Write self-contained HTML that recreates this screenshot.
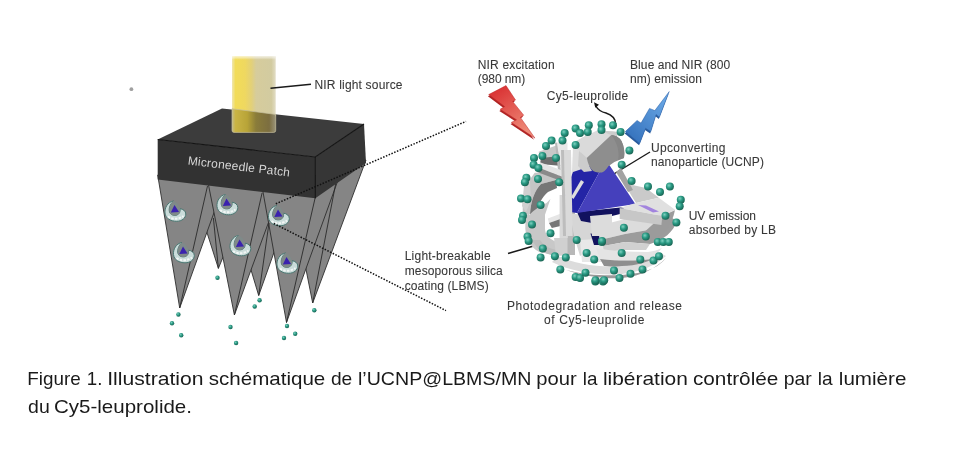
<!DOCTYPE html>
<html><head><meta charset="utf-8">
<style>
html,body{margin:0;padding:0;background:#fff;}
body{width:960px;height:457px;overflow:hidden;position:relative;}
svg{position:absolute;left:0;top:0;filter:blur(0.45px);}
text{font-family:"Liberation Sans",sans-serif;}
</style></head>
<body>
<svg width="960" height="457" viewBox="0 0 960 457">
<defs>
  <radialGradient id="teal" cx="0.38" cy="0.35" r="0.7">
    <stop offset="0" stop-color="#7fd0bf"/>
    <stop offset="0.45" stop-color="#2a9a84"/>
    <stop offset="1" stop-color="#17604f"/>
  </radialGradient>
  <linearGradient id="cylTop" x1="0" y1="0" x2="1" y2="0">
    <stop offset="0" stop-color="#e9d35c"/>
    <stop offset="0.2" stop-color="#f2de68"/>
    <stop offset="0.45" stop-color="#e6d57a"/>
    <stop offset="0.5" stop-color="#ddd6a6"/>
    <stop offset="1" stop-color="#dcd6b0"/>
  </linearGradient>
  <linearGradient id="cylBot" x1="0" y1="0" x2="1" y2="0">
    <stop offset="0" stop-color="#c9b957"/>
    <stop offset="0.45" stop-color="#a99a3c"/>
    <stop offset="0.55" stop-color="#7d7236"/>
    <stop offset="1" stop-color="#8c8662"/>
  </linearGradient>
  <linearGradient id="redBolt" x1="0" y1="0" x2="0.6" y2="1">
    <stop offset="0" stop-color="#d7262a"/>
    <stop offset="1" stop-color="#ee8a78"/>
  </linearGradient>
  <linearGradient id="blueBolt" x1="0" y1="1" x2="0.8" y2="0">
    <stop offset="0" stop-color="#2f6cb8"/>
    <stop offset="1" stop-color="#6aa8e6"/>
  </linearGradient>
</defs>

<!-- stray dot -->
<circle cx="131.4" cy="89.2" r="1.9" fill="#8f8f8f" opacity="0.85"/>

<!-- ===== Needles ===== -->
<g fill="#858585" stroke="#2e2e2e" stroke-width="0.9" stroke-linejoin="round">
  <polygon points="289,184 366,160 312.7,303"/>
  <polygon points="227,190 294,196 258.7,295.5"/>
  <polygon points="192.5,187 250.5,190 218.4,268.4"/>
  <polygon points="157.7,175 225,182 179.7,308"/>
  <polygon points="207.5,180 281.2,188 234.4,315"/>
  <polygon points="262.1,187 315.3,192 339.5,176 286.5,322.5"/>
</g>
<g stroke="#2a2a2a" stroke-width="0.9" fill="none">
  <line x1="336" y1="182" x2="312.7" y2="303"/>
  <line x1="269" y1="223" x2="258.7" y2="295.5"/>
  <line x1="213.4" y1="218" x2="218.4" y2="268.4"/>
  <line x1="207.5" y1="186" x2="179.7" y2="308"/>
  <line x1="262.1" y1="192.9" x2="234.4" y2="315"/>
  <line x1="315.3" y1="197.2" x2="286.5" y2="322.5"/>
</g>

<!-- ===== Box ===== -->
<polygon points="157.7,139.5 222,108.4 364,124 315.3,157" fill="#3c3c3c"/>
<polygon points="157.7,139.5 315.3,157 315.3,198.3 157.7,179.6" fill="#323232"/>
<polygon points="315.3,157 364,124 366,163 315.3,198.3" fill="#363636"/>
<g stroke="#141414" stroke-width="1.1" fill="none">
  <polyline points="157.7,139.5 315.3,157 364,124"/>
  <line x1="315.3" y1="157" x2="315.3" y2="198.3"/>
</g>
<text x="0" y="0" font-size="12" fill="#d6d6d6" textLength="102.7" lengthAdjust="spacing" transform="translate(187.5,164.4) rotate(6.8)">Microneedle Patch</text>

<!-- ===== Cylinder ===== -->
<linearGradient id="cylTop2" x1="0" y1="0" x2="1" y2="0">
  <stop offset="0" stop-color="#efe6b0"/>
  <stop offset="0.08" stop-color="#f2dc58"/>
  <stop offset="0.3" stop-color="#efd860"/>
  <stop offset="0.45" stop-color="#e2d07a"/>
  <stop offset="0.55" stop-color="#d6cc9c"/>
  <stop offset="0.9" stop-color="#d2cba0"/>
  <stop offset="1" stop-color="#e2ddc6"/>
</linearGradient>
<linearGradient id="cylBot2" x1="0" y1="0" x2="1" y2="0">
  <stop offset="0" stop-color="#c4bc88"/>
  <stop offset="0.08" stop-color="#c9b444"/>
  <stop offset="0.35" stop-color="#b8a438"/>
  <stop offset="0.55" stop-color="#8a7c3a"/>
  <stop offset="0.85" stop-color="#7c6e40"/>
  <stop offset="1" stop-color="#9a947a"/>
</linearGradient>
<linearGradient id="cylFade" x1="0" y1="0" x2="0" y2="1">
  <stop offset="0" stop-color="#fff" stop-opacity="0.7"/>
  <stop offset="1" stop-color="#fff" stop-opacity="0"/>
</linearGradient>
<rect x="232" y="56.3" width="43.7" height="60" fill="url(#cylTop2)"/>
<rect x="232" y="56.3" width="43.7" height="3.5" fill="url(#cylFade)"/>
<path d="M232,108.7 L275.7,114.4 L275.7,130.4 Q275.7,132.4 273.7,132.4 L234,132.4 Q232,132.4 232,130.4 Z" fill="url(#cylBot2)" stroke="#c6bf9c" stroke-width="0.7"/>
<line x1="270.5" y1="88.3" x2="311" y2="84.2" stroke="#1a1a1a" stroke-width="1.5"/>

<!-- mini particles -->
<g id="mini">
  <symbol id="mp" viewBox="-12 -11 24 22" overflow="visible">
    <path d="M-1.5,-9.5 C-7.5,-8.5 -10.5,-2.5 -10,2.5 C-9.5,8 -4,10.8 1.5,10.8 C7,10.8 10.8,7.5 10.8,3.5 C10.8,0.5 8,-1.5 5,-1.8 C5.5,1 4.5,3.5 2,4.5 C-1,5.5 -4.5,4.5 -5.5,1.5 C-6.5,-2 -5,-6.5 -1.5,-9.5 Z" fill="#cadcda" stroke="#4a7772" stroke-width="1"/>
    <path d="M-1.5,-9.5 C-5,-6.5 -6.5,-2 -5.5,1.5 C-4.5,4.5 -1,5.5 2,4.5 C4.5,3.5 5.5,1 5,-1.8 C4,-5.5 1.5,-8.5 -1.5,-9.5 Z" fill="#7f8a89"/>
    <polygon points="-0.5,-5.5 -4.2,2 4,1.5" fill="#3a22ae"/>
    <path d="M-7,6 C-3.5,9 3.5,9 8.5,5.5" stroke="#f2f6f5" stroke-width="2" fill="none" stroke-dasharray="2.5,1.2"/>
  </symbol>
  <use href="#mp" x="163.0" y="199.5" width="24" height="22"/>
  <use href="#mp" x="171.5" y="241.0" width="24" height="22"/>
  <use href="#mp" x="215.0" y="193.0" width="24" height="22"/>
  <use href="#mp" x="228.0" y="234.0" width="24" height="22"/>
  <use href="#mp" x="266.5" y="204.0" width="24" height="22"/>
  <use href="#mp" x="275.0" y="251.5" width="24" height="22"/>
</g>

<!-- dots below needles -->
<g fill="url(#teal)">
  <circle cx="178.4" cy="314.5" r="2.2"/><circle cx="172" cy="323.3" r="2.2"/><circle cx="181.2" cy="335.3" r="2.2"/>
  <circle cx="217.5" cy="277.8" r="2.2"/><circle cx="230.5" cy="327" r="2.2"/><circle cx="236.1" cy="343" r="2.2"/>
  <circle cx="259.6" cy="300.3" r="2.2"/><circle cx="254.7" cy="306.5" r="2.2"/><circle cx="287" cy="326" r="2.2"/>
  <circle cx="295.2" cy="333.8" r="2.2"/><circle cx="284" cy="338" r="2.2"/><circle cx="314.3" cy="310.2" r="2.2"/>
</g>

<!-- dotted lines -->
<g stroke="#111" stroke-width="1.5" stroke-dasharray="1.5,1.5" fill="none">
  <line x1="275.8" y1="203.8" x2="466" y2="121.4"/>
  <line x1="273.8" y1="223.5" x2="446" y2="310.6"/>
</g>

<!-- ===== Labels ===== -->
<g fill="#383838" font-size="12" stroke="#383838" stroke-width="0.08">
  <text x="314.5" y="88.6" textLength="88" lengthAdjust="spacing">NIR light source</text>
  <text x="477.8" y="68.75" textLength="76.8" lengthAdjust="spacing">NIR excitation</text>
  <text x="477.8" y="83.3" textLength="47.4" lengthAdjust="spacing">(980 nm)</text>
  <text x="630" y="68.75" textLength="100.25" lengthAdjust="spacing">Blue and NIR (800</text>
  <text x="630" y="83.1" textLength="71.9" lengthAdjust="spacing">nm) emission</text>
  <text x="546.8" y="99.5" textLength="81.5" lengthAdjust="spacing">Cy5-leuprolide</text>
  <text x="651" y="152.2" textLength="74.5" lengthAdjust="spacing">Upconverting</text>
  <text x="651" y="166" textLength="113" lengthAdjust="spacing">nanoparticle (UCNP)</text>
  <text x="688.7" y="220" textLength="67.3" lengthAdjust="spacing">UV emission</text>
  <text x="688.7" y="234.2" textLength="87.3" lengthAdjust="spacing">absorbed by LB</text>
  <text x="404.7" y="260.3" textLength="85.9" lengthAdjust="spacing">Light-breakable</text>
  <text x="404.7" y="274.7" textLength="98.1" lengthAdjust="spacing">mesoporous silica</text>
  <text x="404.7" y="290.3" textLength="84" lengthAdjust="spacing">coating (LBMS)</text>
  <text x="507" y="309.8" textLength="175" lengthAdjust="spacing">Photodegradation and release</text>
  <text x="544" y="324.3" textLength="100.5" lengthAdjust="spacing">of Cy5-leuprolide</text>
</g>

<!-- pointer lines -->
<g stroke="#1a1a1a" stroke-width="1.4" fill="none">
  <line x1="650" y1="152" x2="610.5" y2="176"/>
  <line x1="508" y1="253.5" x2="537" y2="245"/>
  <path d="M595.5,105.5 C598,110 601,112 606,113 C612,115 615.5,118 615.6,124" stroke-width="1.5"/>
  <polygon points="594,102.3 599,104.8 595.3,107.8" fill="#111" stroke="none"/>
</g>

<!-- bolts -->
<polygon points="488.7,94.6 506,85.6 515.5,100 512.6,101.4 523.7,115.2 520.4,117.4 534.9,138.1 511.3,122.4 516.5,119.8 500.1,109.3 504.7,106.6" fill="#b02424" transform="translate(-0.8,1.6)"/>
<polygon points="488.7,94.6 506,85.6 515.5,100 512.6,101.4 523.7,115.2 520.4,117.4 534.9,138.1 511.3,122.4 516.5,119.8 500.1,109.3 504.7,106.6" fill="url(#redBolt)" stroke="#c02a2a" stroke-width="0.5"/>
<polygon points="625.3,131.6 637.1,120.4 641,123.1 649.5,108.4 654.8,110.6 669.2,91.6 659.4,117.2 656.1,114.5 650.8,131.6 645.6,128.3 639.7,143.4" fill="#285a9c" transform="translate(-0.6,1.8)"/>
<polygon points="625.3,131.6 637.1,120.4 641,123.1 649.5,108.4 654.8,110.6 669.2,91.6 659.4,117.2 656.1,114.5 650.8,131.6 645.6,128.3 639.7,143.4" fill="url(#blueBolt)" stroke="#2f62a6" stroke-width="0.5"/>

<!-- ===== Nanoparticle ===== -->
<g id="np">
  <!-- light shell behind dome -->
  <path d="M576,142 C588,132 604,129 618,132 L612,160 L584,172 L574,170 Z" fill="#cccccc"/>
  <!-- top-left surfaces -->
  <polygon points="538.6,151.8 557,145.3 559.6,157 541.3,162.3" fill="#c8c8c8"/>
  <polygon points="541,158 560,156 562,166 540,164" fill="#6e6e6e"/>
  <!-- upper crescent (big gray) -->
  <path d="M534.7,172.8 L558,172.8 L556,180 L541,184 C535,190 531,200 530,214 L523,214 C522,203 524,190 528,182 Z" fill="#c5c5c5"/>
  <path d="M541,184 L556,180 L557,188 L548,192 C542,197 538,205 536,214 L530,214 C531,200 535,190 541,184 Z" fill="#767676"/>
  <polygon points="524,186 530,182 531,200 526,212 522,206" fill="#d0d0d0"/>
  <!-- white bars -->
  <polygon points="557,142.6 567.5,142.6 567.5,179.4 562,179.4" fill="#e7e7e7"/>
  <polygon points="555,143 557,142.6 562,179.4 559,179" fill="#b8b8b8"/>
  <polygon points="540,162.3 565,171.5 562,176.8 538.6,167.6" fill="#e4e4e4"/>
  <polygon points="538.6,167.6 562,176.8 561,181 537,172" fill="#8a8a8a"/>
  <polygon points="573,146 582,144 578,196 571,196" fill="#dedede"/>
  <!-- lower crescent -->
  <path d="M528,212 C524,222 524,236 530.8,244.9 C535,250 540,253 544,252.8 L556,256 L558,244 L554.4,241 C548,238 545,234 545,228 L545,214.7 L550.4,199 L546.5,203 C540,206 534,210 529.4,214.7 Z" fill="#c8c8c8"/>
  <path d="M532,240 C536,248 542,252 548,254 L556,256 L557,250 C550,249 544,246 540,240 Z" fill="#bdbdbd"/>
  <!-- inner bars -->
  <polygon points="547.8,218.6 565,212 566,217 549,223" fill="#e6e6e6"/>
  <polygon points="549,223 566,217 565,225 551.8,228" fill="#777777"/>
  <polygon points="559.6,195 567.5,195 567.5,238 559.6,238" fill="#d8d8d8"/>
  <polygon points="554,238 570,238 570,255 556,256" fill="#d0d0d0"/>
  <polygon points="567.5,208 575,208 575,255 567.5,255" fill="#b8b8b8"/>
  <!-- center / bottom blocks -->
  <polygon points="570,214 592,214 600,226 590,250 580,256 574,236" fill="#d6d6d6"/>
  <polygon points="580,240 612,238 614,262 582,262" fill="#e8e8e8"/>
  <polygon points="598,226 625,219 662,214 672,218 660,228 625,234 600,240" fill="#dcdcdc"/>
  <path d="M600,240 L625,234 L660,228 L672,218 L677,221 C673,232 664,240 650,244 L625,242 L603,246 Z" fill="#9c9c9c"/>
  <polygon points="603,246 625,242 650,244 646,250 625,250 604,252" fill="#d0d0d0"/>
  <polygon points="590.5,233.5 599,234 600,245 594,245" fill="#12125e"/>
  <!-- blue pyramid -->
  <polygon points="577,212 625,207 620,214 600,219 592,223 581,221" fill="#12125e"/>
  <polygon points="606,160 588,167 573,172 565,193 570,212 577,213" fill="#2424a6"/>
  <polygon points="606,160 577,213 635.3,204" fill="#4540bc"/>
  <polygon points="581,180 584,182 573.5,199 571,197" fill="#dedede"/>
  <polygon points="564,150 571,150 572.7,236 566,236" fill="#dadada"/>
  <polygon points="561,150 564,150 566,236 563,236" fill="#bdbdbd"/>
  <polygon points="590,216 612,214 612,236 592,236" fill="#dcdcdc"/>
  <!-- right slab -->
  <path d="M662,216 L675,210 C672,225 664,236 650,242 L640,236 Z" fill="#9b9b9b"/>
  <polygon points="623.6,183 646,188 658.8,197.8 636,203" fill="#cacaca"/>
  <polygon points="619.7,208 636,203 658.8,197.8 675.4,210 662.3,216" fill="#e0e0e0"/>
  <polygon points="619.7,208 662.3,216 661.4,225 619.7,219" fill="#c7c7c7"/>
  <polygon points="638,205 646,205.5 659,211.5 653,212.5" fill="#a284de"/>
  <!-- bottom bands -->
  <path d="M596,248 C612,251 630,252 648,252 C654,251 658,250 662,248 L652,259 C636,261 618,261 600,259 Z" fill="#e4e4e4"/>
  <path d="M600,259 C618,261 636,261 652,259 L648,266 C634,268 618,268 604,266 Z" fill="#8e8e8e"/>
  <path d="M552,262 C572,272 598,276 622,274 C640,272 655,266 666,256 L662,254 C650,262 636,266 622,266 C600,268 575,264 558,256 Z" fill="#dcdcdc"/>
  <path d="M566,270 C590,278 610,279 622,278 C642,276 656,268 666,258 C658,268 646,273 622,275 C605,276 585,275 566,270 Z" fill="#9a9a9a"/>
  <!-- dome -->
  <polygon points="574,142 598,130 611.3,135 586.8,158 579,151" fill="#dadada"/>
  <polygon points="579,151 586.8,158 588.4,164.8 592,171 584,172 578,166" fill="#cccccc"/>
  <path d="M586.8,158 L611.3,135 C616,135.5 620,138 621.5,141 C624,146 625,152 624,158 L614.4,162 L608.3,166.3 C606,170 603,173 600.6,172.5 C597,172.5 594,172 592,170 C590,168 588,164 586.8,158 Z" fill="#8e8e8e"/>
  <path d="M611.3,135 C616,135.5 620,138 621.5,141 C624,146 625,152 624,158 L618,160 C620,152 617,142 611.3,135 Z" fill="#858585"/>
  <polygon points="616,172 621,168 633,190 628,192" fill="#a2a2a2"/>
  <!-- balls -->
  <g fill="url(#teal)">
  <circle cx="613.0" cy="125.3" r="4"/>
  <circle cx="620.6" cy="131.9" r="4"/>
  <circle cx="575.6" cy="128.6" r="4"/>
  <circle cx="580.0" cy="133.0" r="4"/>
  <circle cx="588.8" cy="125.3" r="4"/>
  <circle cx="587.7" cy="131.9" r="4"/>
  <circle cx="601.5" cy="124.2" r="4"/>
  <circle cx="601.5" cy="130.1" r="4"/>
  <circle cx="564.7" cy="133.0" r="4"/>
  <circle cx="562.5" cy="140.6" r="4"/>
  <circle cx="551.6" cy="140.6" r="4"/>
  <circle cx="546.0" cy="146.0" r="4"/>
  <circle cx="575.6" cy="145.0" r="4"/>
  <circle cx="534.0" cy="158.0" r="4"/>
  <circle cx="542.4" cy="156.0" r="4"/>
  <circle cx="533.6" cy="164.7" r="4"/>
  <circle cx="556.0" cy="158.0" r="4"/>
  <circle cx="538.4" cy="168.0" r="4"/>
  <circle cx="526.4" cy="177.8" r="4"/>
  <circle cx="524.9" cy="182.2" r="4"/>
  <circle cx="538.0" cy="179.0" r="4"/>
  <circle cx="559.2" cy="182.2" r="4"/>
  <circle cx="521.0" cy="198.6" r="4"/>
  <circle cx="527.5" cy="199.3" r="4"/>
  <circle cx="540.6" cy="205.0" r="4"/>
  <circle cx="629.4" cy="150.5" r="4"/>
  <circle cx="621.7" cy="164.7" r="4"/>
  <circle cx="631.6" cy="181.0" r="4"/>
  <circle cx="648.0" cy="186.6" r="4"/>
  <circle cx="660.0" cy="192.0" r="4"/>
  <circle cx="669.9" cy="186.6" r="4"/>
  <circle cx="680.8" cy="199.7" r="4"/>
  <circle cx="679.7" cy="206.3" r="4"/>
  <circle cx="523.0" cy="215.8" r="4"/>
  <circle cx="522.0" cy="220.0" r="4"/>
  <circle cx="532.0" cy="224.5" r="4"/>
  <circle cx="550.5" cy="233.3" r="4"/>
  <circle cx="527.5" cy="236.6" r="4"/>
  <circle cx="528.6" cy="241.0" r="4"/>
  <circle cx="542.8" cy="248.6" r="4"/>
  <circle cx="540.6" cy="257.4" r="4"/>
  <circle cx="576.7" cy="239.9" r="4"/>
  <circle cx="565.8" cy="257.4" r="4"/>
  <circle cx="554.9" cy="256.3" r="4"/>
  <circle cx="586.6" cy="253.0" r="4"/>
  <circle cx="594.2" cy="259.6" r="4"/>
  <circle cx="560.3" cy="269.4" r="4"/>
  <circle cx="575.6" cy="277.0" r="4"/>
  <circle cx="580.0" cy="278.0" r="4"/>
  <circle cx="585.5" cy="272.7" r="4"/>
  <circle cx="595.3" cy="281.4" r="4"/>
  <circle cx="603.0" cy="281.4" r="4"/>
  <circle cx="601.9" cy="242.0" r="4"/>
  <circle cx="665.5" cy="215.8" r="4"/>
  <circle cx="676.4" cy="222.4" r="4"/>
  <circle cx="623.9" cy="227.8" r="4"/>
  <circle cx="645.8" cy="236.6" r="4"/>
  <circle cx="657.8" cy="242.0" r="4"/>
  <circle cx="663.3" cy="242.0" r="4"/>
  <circle cx="668.8" cy="242.0" r="4"/>
  <circle cx="602.0" cy="241.0" r="4"/>
  <circle cx="621.7" cy="253.0" r="4"/>
  <circle cx="640.3" cy="259.6" r="4"/>
  <circle cx="653.5" cy="260.6" r="4"/>
  <circle cx="659.0" cy="256.3" r="4"/>
  <circle cx="642.5" cy="269.4" r="4"/>
  <circle cx="614.0" cy="270.5" r="4"/>
  <circle cx="630.5" cy="273.8" r="4"/>
  <circle cx="619.5" cy="278.0" r="4"/>
  <circle cx="595.5" cy="280.3" r="4"/>
  <circle cx="604.2" cy="280.3" r="4"/>
  </g>
</g>

<!-- caption -->
<g fill="#1a1a1a" font-size="19">
  <text x="27.36" y="385.2" textLength="53.38" lengthAdjust="spacingAndGlyphs">Figure</text>
  <text x="86.84" y="385.2" textLength="15.63" lengthAdjust="spacingAndGlyphs">1.</text>
  <text x="107.25" y="385.2" textLength="96.30" lengthAdjust="spacingAndGlyphs">Illustration</text>
  <text x="208.76" y="385.2" textLength="116.56" lengthAdjust="spacingAndGlyphs">schématique</text>
  <text x="330.94" y="385.2" textLength="21.32" lengthAdjust="spacingAndGlyphs">de</text>
  <text x="358.01" y="385.2" textLength="173.45" lengthAdjust="spacingAndGlyphs">l’UCNP@LBMS/MN</text>
  <text x="536.31" y="385.2" textLength="40.36" lengthAdjust="spacingAndGlyphs">pour</text>
  <text x="582.76" y="385.2" textLength="14.65" lengthAdjust="spacingAndGlyphs">la</text>
  <text x="602.92" y="385.2" textLength="84.93" lengthAdjust="spacingAndGlyphs">libération</text>
  <text x="692.93" y="385.2" textLength="85.43" lengthAdjust="spacingAndGlyphs">contrôlée</text>
  <text x="783.65" y="385.2" textLength="28.07" lengthAdjust="spacingAndGlyphs">par</text>
  <text x="817.74" y="385.2" textLength="14.87" lengthAdjust="spacingAndGlyphs">la</text>
  <text x="838.85" y="385.2" textLength="67.52" lengthAdjust="spacingAndGlyphs">lumière</text>
  <text x="28.08" y="412.6" textLength="21.68" lengthAdjust="spacingAndGlyphs">du</text>
  <text x="53.95" y="412.6" textLength="138.04" lengthAdjust="spacingAndGlyphs">Cy5-leuprolide.</text>
</g>
</svg>
</body></html>
